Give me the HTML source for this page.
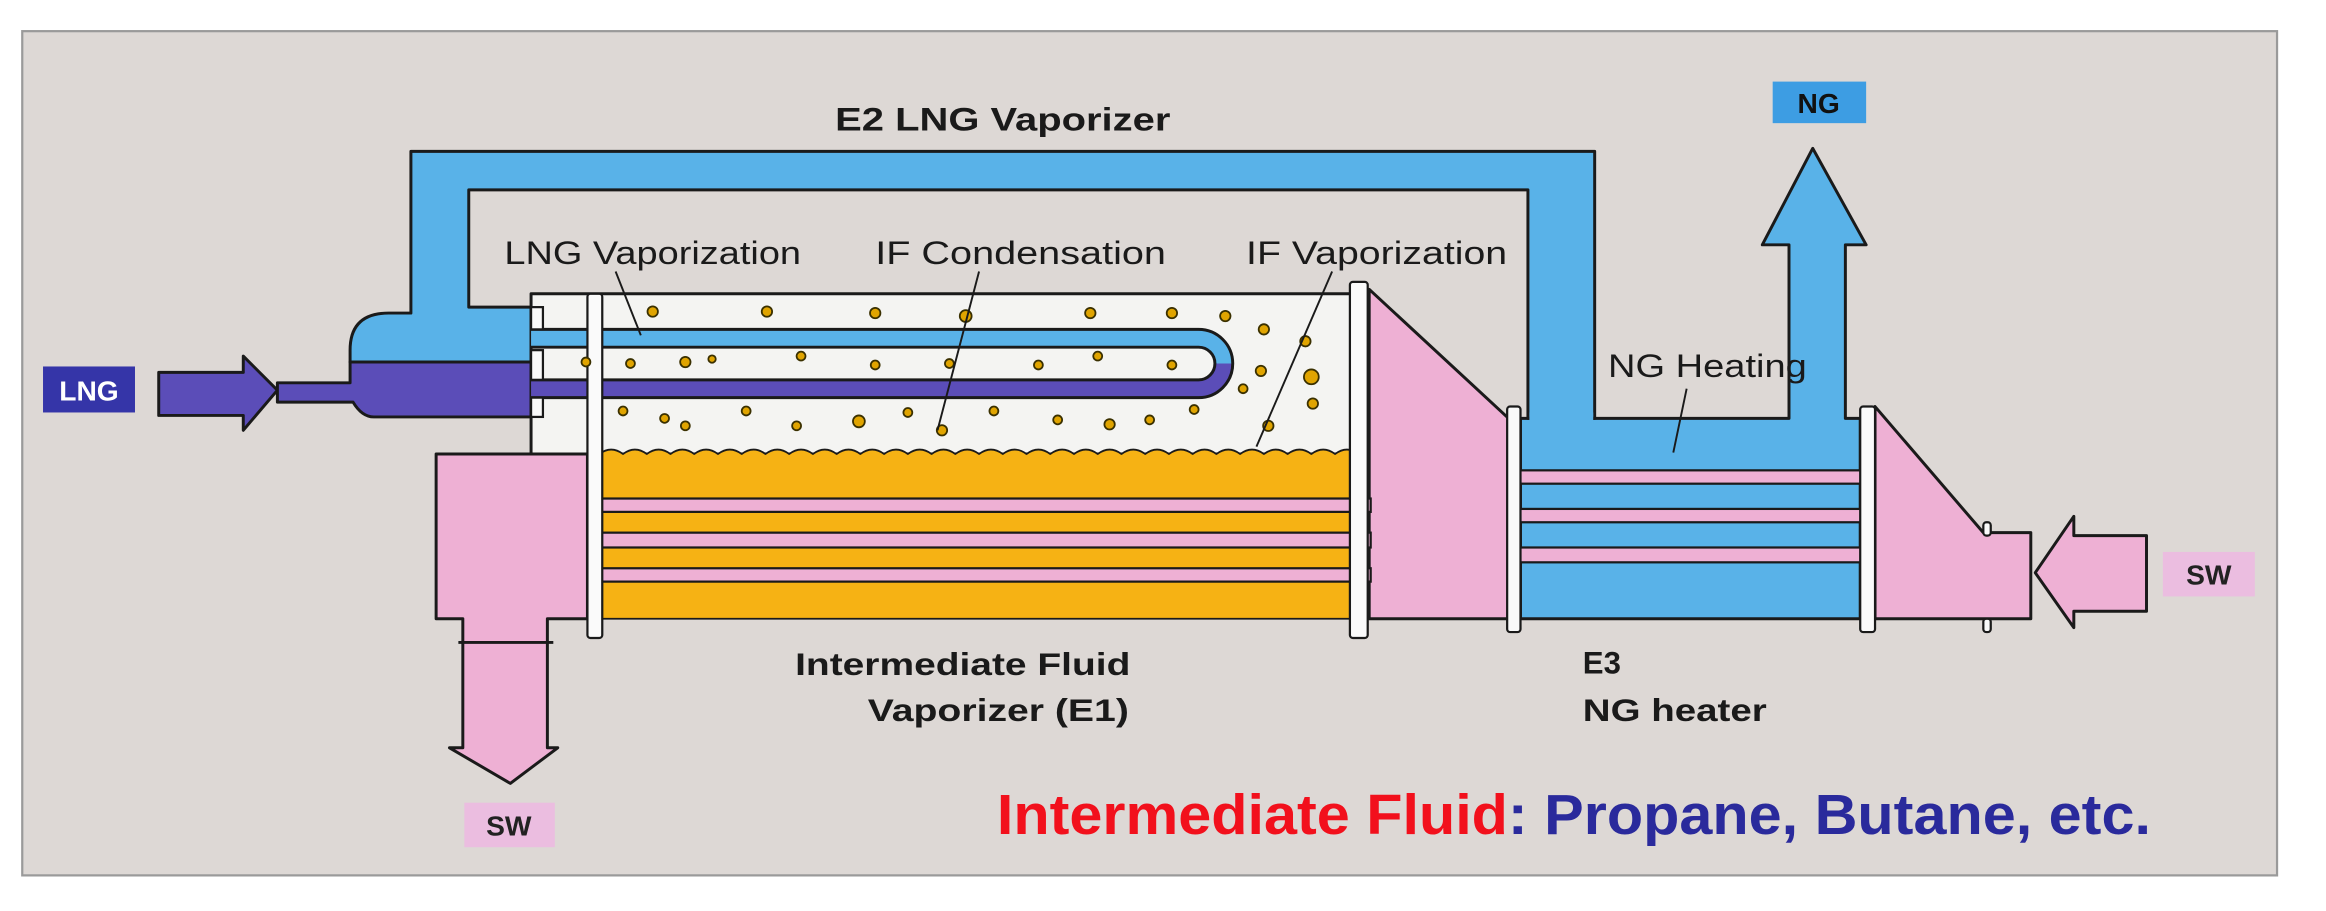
<!DOCTYPE html>
<html><head><meta charset="utf-8"><style>
html,body{margin:0;padding:0;background:#fff;}
svg{display:block;}
text{font-family:"Liberation Sans",Arial,sans-serif;}
</style></head><body>
<svg width="2326" height="911" viewBox="0 0 1568 614" preserveAspectRatio="none" xmlns="http://www.w3.org/2000/svg">
<rect x="0" y="0" width="1568" height="614" fill="#fff"/>
<rect x="15" y="21" width="1520" height="569" fill="#ddd8d5" stroke="#9a9a9a" stroke-width="1.5"/>

<g stroke="#1a1a1a" stroke-width="2" stroke-linejoin="round">
<!-- E3 blue shell with NG outlet -->
<path d="M1025,282 L1206,282 L1206,165 L1188,165 L1222,100 L1258,165 L1244,165 L1244,282 L1254,282 L1254,417 L1025,417 Z" fill="#59b2e8"/>
<!-- blue LNG/NG pipe -->
<path d="M277,102 L1075,102 L1075,282 L1030,282 L1030,128 L316,128 L316,207 L358,207 L358,244 L236,244 L236,236 Q236,211 262,211 L277,211 Z" fill="#59b2e8"/>
<rect x="1031" y="278" width="43" height="8" fill="#59b2e8" stroke="none"/>
<!-- purple header + LNG arrow -->
<path d="M107,251 L164,251 L164,240 L187,263 L164,290 L164,280 L107,280 Z" fill="#5b4db8"/>
<path d="M187,258 L236,258 L236,244 L358,244 L358,281 L252,281 Q244,281 238,271 L187,271 Z" fill="#5b4db8"/>

<!-- pink middle section -->
<path d="M923,195 L1017,282 L1017,417 L923,417 Z" fill="#eeb0d4"/>
<!-- pink right header -->
<path d="M1264,274 L1337,359 L1369,359 L1369,417 L1264,417 Z" fill="#eeb0d4"/>
<!-- SW inlet arrow -->
<path d="M1447,361 L1398,361 L1398,348 L1372,386 L1398,423 L1398,412 L1447,412 Z" fill="#eeb0d4"/>
<!-- pink left header and outlet -->
<path d="M294,306 L396,306 L396,417 L369,417 L369,504 L376,504 L344,528 L303,504 L312,504 L312,417 L294,417 Z" fill="#eeb0d4"/>
<line x1="309" y1="433" x2="373" y2="433"/>

<!-- E1 vapor region -->
<rect x="358" y="198" width="556" height="108" fill="#f4f4f2"/>
<!-- orange liquid -->
<path d="M404,306 q8,-6 16,0 q8,-6 16,0 q8,-6 16,0 q8,-6 16,0 q8,-6 16,0 q8,-6 16,0 q8,-6 16,0 q8,-6 16,0 q8,-6 16,0 q8,-6 16,0 q8,-6 16,0 q8,-6 16,0 q8,-6 16,0 q8,-6 16,0 q8,-6 16,0 q8,-6 16,0 q8,-6 16,0 q8,-6 16,0 q8,-6 16,0 q8,-6 16,0 q8,-6 16,0 q8,-6 16,0 q8,-6 16,0 q8,-6 16,0 q8,-6 16,0 q8,-6 16,0 q8,-6 16,0 q8,-6 16,0 q8,-6 16,0 q8,-6 16,0 q8,-6 16,0 q8,-6 16,0 L914,306 L914,417 L404,417 Z" fill="#f6b214" stroke-width="1.2"/>
</g>

<!-- pink tubes E1 & E3 -->
<g fill="#eeb0d4" stroke="#1a1a1a" stroke-width="1.5">
<rect x="396" y="336" width="528" height="9"/>
<rect x="396" y="359" width="528" height="10"/>
<rect x="396" y="383" width="528" height="9"/>
<rect x="1017" y="317" width="247" height="9"/>
<rect x="1017" y="343" width="247" height="9"/>
<rect x="1017" y="369" width="247" height="10"/>
</g>

<!-- U tube -->
<g fill="none" stroke-linecap="butt">
<path d="M358,228 L808,228 A17,17 0 0 1 808,262 L358,262" stroke="#1a1a1a" stroke-width="14"/>
<path d="M358,228 L808,228 A17,17 0 0 1 825,245" stroke="#59b2e8" stroke-width="10"/>
<path d="M825,245 A17,17 0 0 1 808,262 L358,262" stroke="#5b4db8" stroke-width="10"/>
</g>

<!-- tube sheets / flanges -->
<g fill="#fafafa" stroke="#1a1a1a" stroke-width="1.5">
<rect x="358" y="207" width="8" height="15"/>
<rect x="358" y="236" width="8" height="20"/>
<rect x="358" y="268" width="8" height="13"/>
<rect x="396" y="198" width="10" height="232" rx="2"/>
<rect x="910" y="190" width="12" height="240" rx="2"/>
<rect x="1016" y="274" width="9" height="152" rx="2"/>
<rect x="1254" y="274" width="10" height="152" rx="2"/>
<rect x="1337" y="352" width="5" height="9" rx="2"/>
<rect x="1337" y="417" width="5" height="9" rx="2"/>
</g>

<!-- droplets -->
<g fill="#e0a400" stroke="#3a3000" stroke-width="1.2">
<circle cx="440" cy="210" r="3.5"/><circle cx="517" cy="210" r="3.5"/><circle cx="590" cy="211" r="3.5"/><circle cx="651" cy="213" r="4"/><circle cx="735" cy="211" r="3.5"/><circle cx="790" cy="211" r="3.5"/><circle cx="826" cy="213" r="3.5"/><circle cx="852" cy="222" r="3.5"/><circle cx="880" cy="230" r="3.5"/>
<circle cx="395" cy="244" r="3"/><circle cx="425" cy="245" r="3"/><circle cx="462" cy="244" r="3.5"/><circle cx="480" cy="242" r="2.5"/><circle cx="540" cy="240" r="3"/><circle cx="590" cy="246" r="3"/><circle cx="640" cy="245" r="3"/><circle cx="700" cy="246" r="3"/><circle cx="740" cy="240" r="3"/><circle cx="790" cy="246" r="3"/>
<circle cx="850" cy="250" r="3.5"/><circle cx="884" cy="254" r="5"/><circle cx="885" cy="272" r="3.5"/><circle cx="838" cy="262" r="3"/>
<circle cx="420" cy="277" r="3"/><circle cx="448" cy="282" r="3"/><circle cx="462" cy="287" r="3"/><circle cx="503" cy="277" r="3"/><circle cx="537" cy="287" r="3"/><circle cx="579" cy="284" r="4"/><circle cx="612" cy="278" r="3"/><circle cx="635" cy="290" r="3.5"/><circle cx="670" cy="277" r="3"/><circle cx="713" cy="283" r="3"/><circle cx="748" cy="286" r="3.5"/><circle cx="775" cy="283" r="3"/><circle cx="805" cy="276" r="3"/><circle cx="855" cy="287" r="3.5"/>
</g>

<!-- leader lines -->
<g stroke="#1a1a1a" stroke-width="1.3" fill="none">
<line x1="415" y1="183" x2="432" y2="226"/>
<line x1="660" y1="183" x2="632" y2="290"/>
<line x1="898" y1="183" x2="847" y2="301"/>
<line x1="1137" y1="262" x2="1128" y2="305"/>
</g>

<!-- labels -->
<g fill="#1a1a1a">
<text x="563" y="88" font-size="22" font-weight="bold" textLength="226" lengthAdjust="spacingAndGlyphs">E2  LNG Vaporizer</text>
<text x="340" y="178" font-size="22" textLength="200" lengthAdjust="spacingAndGlyphs">LNG Vaporization</text>
<text x="590" y="178" font-size="22" textLength="196" lengthAdjust="spacingAndGlyphs">IF Condensation</text>
<text x="840" y="178" font-size="22" textLength="176" lengthAdjust="spacingAndGlyphs">IF Vaporization</text>
<text x="1084" y="254" font-size="22" textLength="134" lengthAdjust="spacingAndGlyphs">NG Heating</text>
<text x="536" y="455" font-size="21" font-weight="bold" textLength="226" lengthAdjust="spacingAndGlyphs">Intermediate Fluid</text>
<text x="585" y="486" font-size="21" font-weight="bold" textLength="176" lengthAdjust="spacingAndGlyphs">Vaporizer (E1)</text>
<text x="1067" y="454" font-size="21" font-weight="bold">E3</text>
<text x="1067" y="486" font-size="21" font-weight="bold" textLength="124" lengthAdjust="spacingAndGlyphs">NG heater</text>
</g>

<!-- tag boxes -->
<rect x="29" y="247" width="62" height="31" fill="#3535a8"/>
<text x="60" y="270" font-size="19" font-weight="bold" fill="#fff" text-anchor="middle">LNG</text>
<rect x="1195" y="55" width="63" height="28" fill="#3d9de3"/>
<text x="1226" y="76" font-size="19" font-weight="bold" fill="#111" text-anchor="middle">NG</text>
<rect x="1458" y="372" width="62" height="30" fill="#ebbde0"/>
<text x="1489" y="394" font-size="19" font-weight="bold" fill="#222" text-anchor="middle">SW</text>
<rect x="313" y="541" width="61" height="30" fill="#ebbde0"/>
<text x="343" y="563" font-size="19" font-weight="bold" fill="#222" text-anchor="middle">SW</text>

<text x="672" y="562" font-size="38" font-weight="bold" textLength="778" lengthAdjust="spacingAndGlyphs"><tspan fill="#f2101c">Intermediate Fluid</tspan><tspan fill="#2a2a9c">: Propane, Butane, etc.</tspan></text>
</svg>
</body></html>
